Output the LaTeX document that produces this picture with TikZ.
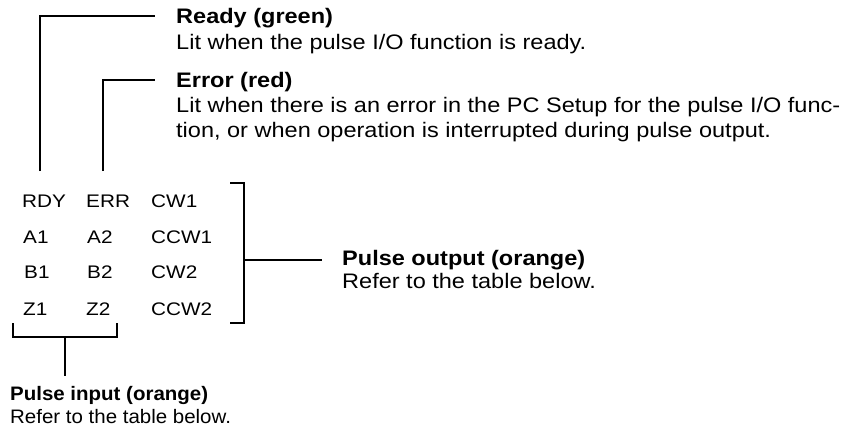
\documentclass[tikz,border=0pt]{standalone}
\usepackage{fontspec}
\newfontfamily\lblfont[FakeStretch=1.12]{Liberation Sans}
\newfontfamily\tabfont[FakeStretch=1.14]{Liberation Sans}
\newfontfamily\infont[FakeStretch=1.05]{Liberation Sans}
\begin{document}
\begin{tikzpicture}[x=1pt,y=-1pt,
  conn/.style={line width=2.6pt, line join=miter},
  desc/.style={anchor=base west, inner sep=0pt, align=left, font=\lblfont\fontsize{21}{25}\selectfont},
  pinlbl/.style={anchor=base west, inner sep=0pt, font=\tabfont\fontsize{18.2}{22}\selectfont}]
\useasboundingbox (0,0) rectangle (845,445);

% descriptions (anchored at the baseline of their last line)
\node[desc] (ready) at (176,49) {\textbf{Ready (green)}\\[1pt]Lit when the pulse I/O function is ready.};
\node[desc] (error) at (176,137) {\textbf{Error (red)}\\Lit when there is an error in the PC Setup for the pulse I/O func-\\tion, or when operation is interrupted during pulse output.};
\node[desc, font=\lblfont\fontsize{21}{23}\selectfont] (pout) at (342,288) {\textbf{Pulse output (orange)}\\Refer to the table below.};
\node[desc, font=\infont\fontsize{19.5}{23}\selectfont] (pinp) at (10,423) {\textbf{Pulse input (orange)}\\Refer to the table below.};

% indicator labels
\node[pinlbl] (rdy)  at (22,207) {RDY};
\node[pinlbl] (err)  at (86,207) {ERR};
\node[pinlbl] (cw1)  at (151,207) {CW1};
\node[pinlbl] (a1)   at (23,243) {A1};
\node[pinlbl] (a2)   at (87,243) {A2};
\node[pinlbl] (ccw1) at (151,243) {CCW1};
\node[pinlbl] (b1)   at (24,278) {B1};
\node[pinlbl] (b2)   at (87,278) {B2};
\node[pinlbl] (cw2)  at (151,278) {CW2};
\node[pinlbl] (z1)   at (23,315) {Z1};
\node[pinlbl] (z2)   at (86,315) {Z2};
\node[pinlbl] (ccw2) at (151,315) {CCW2};

% connector points
\coordinate (rdyTop) at (40,171);
\coordinate (rdyEnd) at (155,16);
\coordinate (errTop) at (103,171);
\coordinate (errEnd) at (155,80);
\coordinate (outTopL) at (230,183);
\coordinate (outBotL) at (230,323);
\coordinate (outBar) at (244,260);
\coordinate (outEnd) at (322,260);
\coordinate (inL) at (13,323);
\coordinate (inR) at (117,323);
\coordinate (inBar) at (65,337);
\coordinate (inEnd) at (65,376);

% connectors
\draw[conn] (rdyTop) |- (rdyEnd);
\draw[conn] (errTop) |- (errEnd);
\draw[conn] (outTopL) -| (outBar) |- (outBotL);
\draw[conn] (outBar) -- (outEnd);
\draw[conn] (inL) -- ++(0,14) -| (inR);
\draw[conn] (inBar) -- (inEnd);
\end{tikzpicture}
\end{document}
